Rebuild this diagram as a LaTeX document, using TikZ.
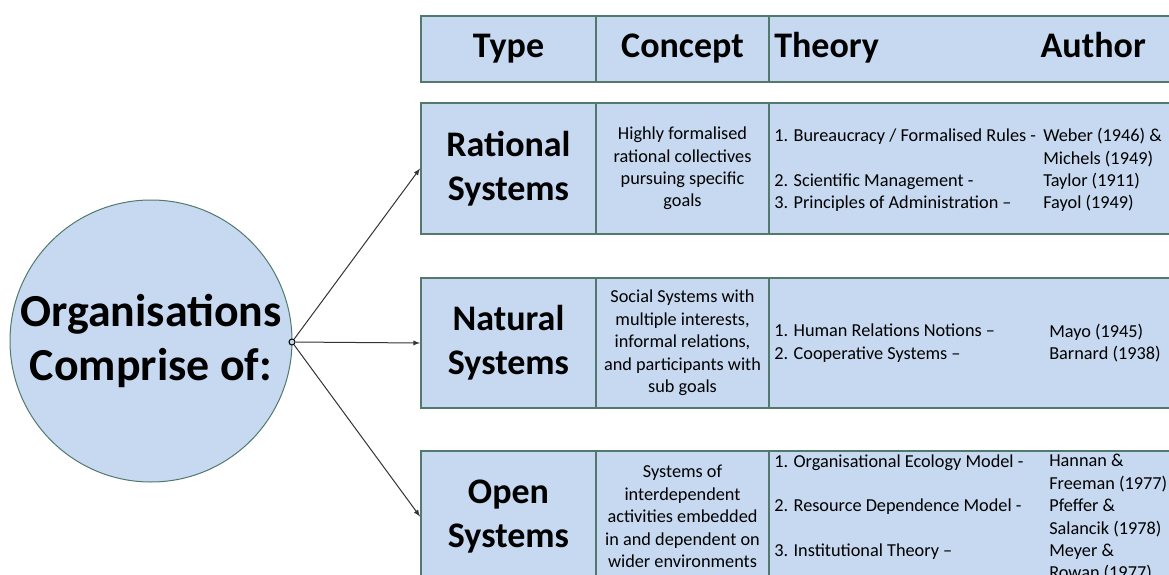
\documentclass[tikz,border=0pt]{standalone}
\usepackage{fontspec}
\setmainfont{Carlito}
\usetikzlibrary{arrows}
\definecolor{cellfill}{RGB}{198,217,240}
\definecolor{cellline}{RGB}{82,122,108}

\begin{document}
\begin{tikzpicture}[x=0.75pt,y=-0.75pt,
cell/.style={draw=cellline,fill=cellfill,line width=1.5pt,anchor=north west,inner sep=0pt,align=center},
head/.style={font=\fontsize{27}{33}\selectfont\bfseries},
kind/.style={font=\fontsize{27}{33}\selectfont\bfseries},
body/.style={font=\fontsize{13.7}{16.8}\selectfont,inner sep=0pt},
every edge/.style={draw=black!80,line width=0.75pt,-latex}]
\clip (0,0) rectangle (1169,574);
% header row
\node[cell,head,minimum width=131.25pt,minimum height=49.5pt] (htype) at (420,15) {Type};
\node[cell,head,minimum width=129.75pt,minimum height=49.5pt] (hconc) at (595,15) {Concept};
\node[cell,minimum width=309pt,minimum height=49.5pt] (htheo) at (768,15) {};
\node[head,anchor=base west,inner sep=0pt] (theolbl) at (774,58) {Theory};
\node[head,anchor=base east,inner sep=0pt] (authlbl) at (1146,58) {Author};
% rational systems
\node[cell,kind,minimum width=131.25pt,minimum height=98.25pt] (rat) at (420,102) {Rational\\Systems};
\node[cell,body,minimum width=129.75pt,minimum height=98.25pt] (ratc) at (595,102)
{Highly formalised\\rational collectives\\pursuing specific\\goals};
\node[cell,minimum width=309pt,minimum height=98.25pt] (ratt) at (768,102) {};
\node[body,anchor=west,align=left] (ratth) at (774,170)
{1. Bureaucracy / Formalised Rules -\\~\\2. Scientific Management -\\3. Principles of Administration --};
\node[body,anchor=west,align=left] (ratau) at (1043,170)
{Weber (1946) \&\\Michels (1949)\\Taylor (1911)\\Fayol (1949)};
% natural systems
\node[cell,kind,minimum width=131.25pt,minimum height=97.5pt] (nat) at (420,277) {Natural\\Systems};
\node[cell,body,minimum width=129.75pt,minimum height=97.5pt] (natc) at (595,277)
{Social Systems with\\multiple interests,\\informal relations,\\and participants with\\sub goals};
\node[cell,minimum width=309pt,minimum height=97.5pt] (natt) at (768,277) {};
\node[body,anchor=west,align=left] (natth) at (774,343)
{1. Human Relations Notions --\\2. Cooperative Systems --};
\node[body,anchor=west,align=left] (natau) at (1049,343)
{Mayo (1945)\\Barnard (1938)};
% open systems
\node[cell,kind,minimum width=131.25pt,minimum height=98.25pt] (opn) at (420,450) {Open\\Systems};
\node[cell,body,minimum width=129.75pt,minimum height=98.25pt] (opnc) at (595,450)
{Systems of\\interdependent\\activities embedded\\in and dependent on\\wider environments};
\node[cell,minimum width=309pt,minimum height=98.25pt] (opnt) at (768,450) {};
\node[body,anchor=west,align=left] (opnth) at (774,507)
{1. Organisational Ecology Model -\\~\\2. Resource Dependence Model -\\~\\3. Institutional Theory --};
\node[body,anchor=west,align=left] (opnau) at (1049,518)
{Hannan \&\\Freeman (1977)\\Pfeffer \&\\Salancik (1978)\\Meyer \&\\Rowan (1977)};
% organisations
\node[circle,draw=cellline,fill=cellfill,line width=0.75pt,minimum size=211.5pt,inner sep=0pt,
align=center,font=\fontsize{34.4}{40.5}\selectfont\bfseries] (org) at (151,341)
{Organisations\\Comprise of:};
\node[circle,draw=black,fill=cellfill,line width=0.75pt,minimum size=4.5pt,inner sep=0pt] (hub) at (292,342) {}
edge (rat.west) edge (nat.west) edge (opn.west);
\end{tikzpicture}
\end{document}
